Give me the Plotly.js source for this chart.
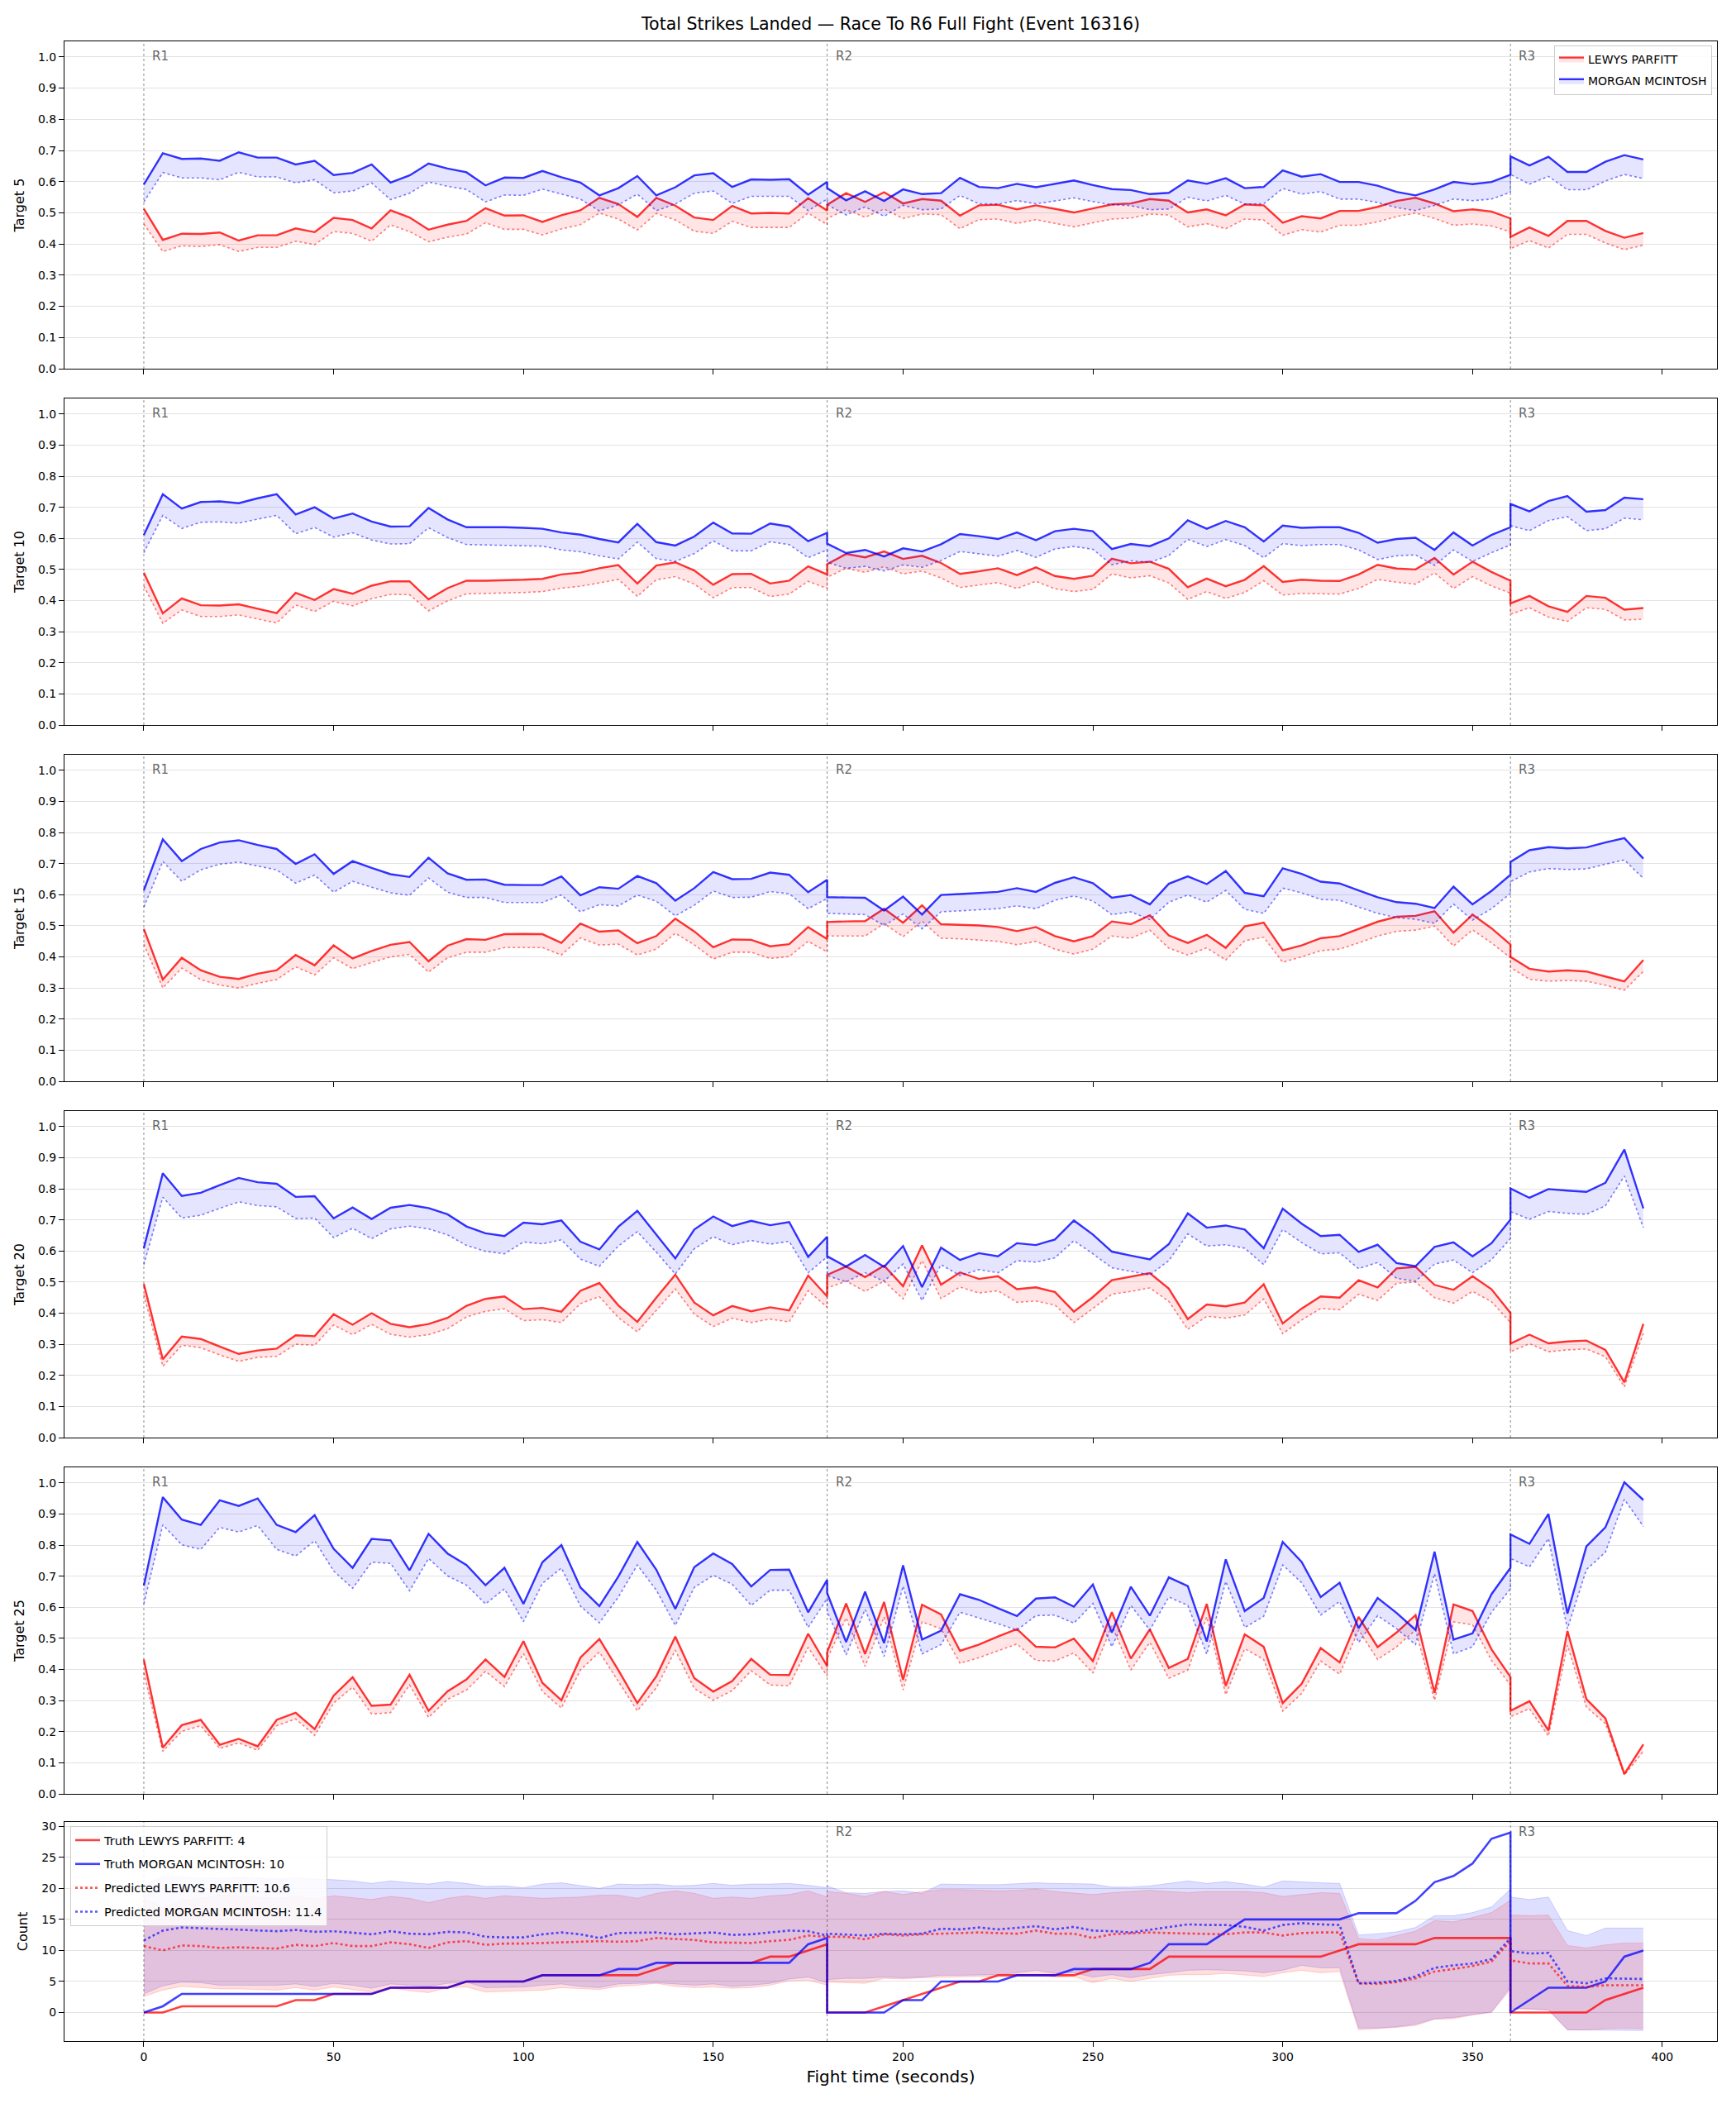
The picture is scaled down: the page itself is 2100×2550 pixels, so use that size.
<!DOCTYPE html>
<html><head><meta charset="utf-8">
<script src="https://cdn.plot.ly/plotly-3.0.1.min.js"></script>
<style>body{margin:0;background:#fff}#chart{width:2100px;height:2550px}</style>
</head><body><div id="chart"></div>
<script>
const chartTitle = 'Total Strikes Landed — Race To R6 Full Fight (Event 16316)';
const fighters = ['LEWYS PARFITT', 'MORGAN MCINTOSH'];
const targetLabels = ['Target 5', 'Target 10', 'Target 15', 'Target 20', 'Target 25'];
const countLabel = 'Count';
const xLabel = 'Fight time (seconds)';
const roundStarts = [0, 180, 360];
const roundLabels = ['R1', 'R2', 'R3'];
const countLegend = ['Truth LEWYS PARFITT: 4', 'Truth MORGAN MCINTOSH: 10', 'Predicted LEWYS PARFITT: 10.6', 'Predicted MORGAN MCINTOSH: 11.4'];

const fightTime = [
 0,5,10,15,20,25,30,35,40,45,50,55,60,65,70,75,80,85,90,95,100,105,110,115,120,125,130,135,140,145,150,155,160,165,170,175,180,
 180,185,190,195,200,205,210,215,220,225,230,235,240,245,250,255,260,265,270,275,280,285,290,295,300,305,310,315,320,325,330,335,340,345,350,355,360,
 360,365,370,375,380,385,390,395];

// Target 5
const t5Red = [
 0.513,0.413,0.433,0.432,0.437,0.411,0.428,0.428,0.450,0.438,0.484,0.477,0.450,0.508,0.485,0.446,0.462,0.474,0.515,0.491,0.492,0.471,0.492,0.508,0.548,0.528,0.487,0.548,0.523,0.485,0.477,0.522,0.498,0.500,0.498,0.547,0.507,
 0.526,0.563,0.535,0.566,0.530,0.544,0.539,0.491,0.524,0.526,0.511,0.524,0.512,0.501,0.514,0.527,0.530,0.544,0.539,0.501,0.511,0.492,0.527,0.524,0.468,0.489,0.482,0.506,0.506,0.519,0.538,0.548,0.530,0.505,0.511,0.504,0.482,
 0.423,0.453,0.426,0.474,0.474,0.442,0.420,0.435];
const t5RedPred = [
 0.464,0.376,0.394,0.392,0.398,0.376,0.389,0.389,0.409,0.398,0.440,0.434,0.409,0.461,0.440,0.407,0.422,0.432,0.468,0.447,0.447,0.429,0.448,0.462,0.499,0.480,0.445,0.498,0.477,0.441,0.434,0.473,0.453,0.454,0.453,0.499,0.462,
 0.482,0.510,0.486,0.512,0.482,0.496,0.494,0.449,0.478,0.480,0.466,0.478,0.466,0.455,0.468,0.480,0.483,0.496,0.493,0.455,0.465,0.449,0.480,0.477,0.428,0.446,0.438,0.460,0.460,0.471,0.488,0.499,0.482,0.460,0.464,0.458,0.439,
 0.385,0.411,0.387,0.431,0.431,0.403,0.382,0.396];
const t5Blue = [
 0.591,0.691,0.673,0.674,0.667,0.694,0.677,0.677,0.655,0.667,0.621,0.628,0.655,0.597,0.620,0.658,0.642,0.630,0.588,0.613,0.612,0.634,0.614,0.597,0.556,0.579,0.618,0.556,0.582,0.620,0.627,0.583,0.607,0.606,0.608,0.558,0.599,
 0.579,0.540,0.569,0.538,0.575,0.560,0.563,0.612,0.583,0.579,0.593,0.582,0.593,0.604,0.589,0.576,0.573,0.560,0.564,0.604,0.593,0.611,0.579,0.583,0.636,0.616,0.624,0.599,0.599,0.587,0.567,0.556,0.575,0.599,0.592,0.599,0.622,
 0.681,0.652,0.680,0.631,0.631,0.664,0.685,0.671];
const t5BluePred = [
 0.535,0.629,0.612,0.612,0.606,0.630,0.615,0.615,0.596,0.606,0.564,0.570,0.596,0.542,0.563,0.599,0.585,0.575,0.535,0.557,0.556,0.576,0.560,0.544,0.506,0.526,0.560,0.507,0.528,0.563,0.570,0.530,0.553,0.553,0.553,0.507,0.544,
 0.526,0.493,0.519,0.489,0.524,0.510,0.512,0.556,0.529,0.528,0.539,0.529,0.538,0.548,0.536,0.526,0.523,0.510,0.512,0.550,0.538,0.556,0.528,0.529,0.578,0.560,0.568,0.544,0.544,0.533,0.517,0.507,0.524,0.544,0.539,0.544,0.566,
 0.623,0.592,0.617,0.574,0.574,0.602,0.623,0.610];

// Target 10
const t10Red = [
 0.490,0.359,0.407,0.385,0.384,0.388,0.374,0.360,0.425,0.402,0.437,0.422,0.448,0.462,0.462,0.404,0.440,0.464,0.464,0.465,0.467,0.470,0.484,0.490,0.504,0.514,0.455,0.513,0.523,0.497,0.451,0.485,0.486,0.455,0.464,0.510,0.484,
 0.517,0.550,0.539,0.558,0.534,0.544,0.521,0.486,0.494,0.504,0.482,0.507,0.479,0.470,0.480,0.535,0.520,0.525,0.502,0.443,0.471,0.446,0.467,0.511,0.460,0.467,0.464,0.463,0.484,0.515,0.503,0.500,0.537,0.484,0.525,0.492,0.464,
 0.391,0.415,0.382,0.364,0.415,0.409,0.371,0.376];
const t10RedPred = [
 0.447,0.327,0.370,0.349,0.349,0.354,0.341,0.328,0.386,0.365,0.398,0.383,0.406,0.420,0.419,0.367,0.399,0.422,0.423,0.424,0.426,0.429,0.440,0.446,0.458,0.468,0.414,0.467,0.477,0.453,0.409,0.442,0.442,0.413,0.421,0.462,0.439,
 0.475,0.504,0.491,0.509,0.486,0.495,0.473,0.442,0.451,0.458,0.439,0.462,0.438,0.429,0.436,0.486,0.473,0.480,0.457,0.404,0.429,0.407,0.426,0.464,0.418,0.423,0.422,0.421,0.439,0.468,0.459,0.453,0.489,0.439,0.477,0.447,0.424,
 0.356,0.377,0.347,0.333,0.377,0.372,0.338,0.340];
const t10Blue = [
 0.611,0.742,0.696,0.717,0.719,0.713,0.729,0.742,0.677,0.700,0.664,0.680,0.654,0.638,0.639,0.698,0.661,0.636,0.636,0.636,0.634,0.631,0.619,0.612,0.598,0.587,0.647,0.588,0.577,0.606,0.651,0.616,0.615,0.648,0.638,0.591,0.618,
 0.583,0.553,0.563,0.542,0.568,0.558,0.581,0.614,0.607,0.598,0.619,0.594,0.623,0.631,0.623,0.566,0.582,0.575,0.600,0.658,0.631,0.656,0.636,0.590,0.641,0.634,0.636,0.636,0.618,0.586,0.598,0.602,0.563,0.619,0.577,0.611,0.636,
 0.711,0.687,0.720,0.736,0.686,0.691,0.731,0.726];
const t10BluePred = [
 0.554,0.674,0.632,0.652,0.653,0.649,0.662,0.674,0.615,0.635,0.604,0.618,0.595,0.582,0.583,0.634,0.603,0.580,0.579,0.578,0.576,0.575,0.563,0.557,0.544,0.534,0.588,0.535,0.526,0.551,0.592,0.560,0.560,0.589,0.580,0.538,0.563,
 0.523,0.504,0.510,0.495,0.515,0.507,0.529,0.558,0.551,0.543,0.561,0.539,0.566,0.574,0.565,0.515,0.528,0.523,0.545,0.597,0.574,0.596,0.577,0.538,0.583,0.577,0.580,0.580,0.563,0.532,0.544,0.547,0.513,0.563,0.526,0.554,0.579,
 0.641,0.625,0.657,0.670,0.625,0.631,0.665,0.660];

// Target 15
const t15Red = [
 0.490,0.327,0.397,0.357,0.336,0.329,0.346,0.357,0.406,0.373,0.437,0.395,0.419,0.439,0.448,0.386,0.436,0.457,0.455,0.473,0.474,0.473,0.445,0.507,0.481,0.485,0.444,0.467,0.523,0.482,0.431,0.456,0.455,0.434,0.441,0.496,0.457,
 0.512,0.514,0.515,0.555,0.510,0.566,0.505,0.503,0.501,0.496,0.483,0.496,0.467,0.450,0.467,0.514,0.505,0.534,0.469,0.445,0.471,0.429,0.498,0.510,0.421,0.437,0.460,0.467,0.490,0.513,0.529,0.532,0.547,0.478,0.536,0.492,0.440,
 0.400,0.362,0.353,0.357,0.353,0.337,0.321,0.390];
const t15RedPred = [
 0.441,0.300,0.364,0.327,0.309,0.300,0.315,0.327,0.368,0.342,0.397,0.362,0.382,0.400,0.408,0.351,0.397,0.415,0.415,0.430,0.430,0.430,0.406,0.461,0.438,0.441,0.406,0.425,0.476,0.439,0.393,0.415,0.415,0.395,0.401,0.450,0.416,
 0.467,0.467,0.467,0.507,0.465,0.515,0.460,0.458,0.454,0.450,0.439,0.450,0.425,0.409,0.425,0.467,0.460,0.486,0.428,0.406,0.429,0.390,0.452,0.463,0.383,0.400,0.420,0.425,0.445,0.467,0.482,0.486,0.499,0.435,0.487,0.445,0.397,
 0.366,0.328,0.322,0.324,0.322,0.309,0.293,0.353];
const t15Blue = [
 0.614,0.778,0.708,0.747,0.768,0.775,0.760,0.747,0.699,0.730,0.667,0.708,0.686,0.666,0.657,0.719,0.669,0.648,0.649,0.632,0.631,0.631,0.659,0.598,0.624,0.619,0.660,0.637,0.581,0.621,0.673,0.650,0.651,0.671,0.664,0.608,0.648,
 0.592,0.591,0.590,0.549,0.594,0.536,0.599,0.602,0.605,0.609,0.621,0.609,0.638,0.656,0.637,0.590,0.599,0.569,0.635,0.659,0.634,0.676,0.606,0.595,0.685,0.667,0.642,0.636,0.614,0.592,0.576,0.571,0.557,0.626,0.569,0.612,0.664,
 0.705,0.743,0.753,0.749,0.752,0.768,0.782,0.716];
const t15BluePred = [
 0.560,0.707,0.643,0.680,0.698,0.705,0.692,0.680,0.637,0.663,0.608,0.643,0.624,0.606,0.598,0.654,0.608,0.591,0.591,0.575,0.575,0.575,0.599,0.545,0.568,0.564,0.599,0.579,0.532,0.566,0.612,0.591,0.592,0.610,0.603,0.555,0.588,
 0.540,0.538,0.536,0.501,0.538,0.490,0.545,0.548,0.552,0.555,0.564,0.555,0.582,0.596,0.580,0.536,0.545,0.520,0.576,0.599,0.576,0.614,0.553,0.540,0.621,0.606,0.585,0.582,0.560,0.540,0.526,0.521,0.508,0.570,0.518,0.555,0.604,
 0.642,0.673,0.684,0.681,0.683,0.698,0.712,0.652];

// Target 20
const t20Red = [
 0.494,0.252,0.325,0.317,0.293,0.269,0.280,0.286,0.329,0.326,0.397,0.363,0.400,0.366,0.355,0.365,0.385,0.424,0.446,0.454,0.413,0.417,0.405,0.472,0.497,0.425,0.372,0.450,0.524,0.434,0.393,0.423,0.406,0.419,0.409,0.521,0.454,
 0.523,0.550,0.516,0.553,0.487,0.618,0.492,0.531,0.510,0.519,0.477,0.483,0.468,0.405,0.452,0.506,0.517,0.529,0.479,0.381,0.428,0.422,0.434,0.493,0.367,0.415,0.454,0.450,0.506,0.483,0.544,0.549,0.491,0.475,0.519,0.477,0.401,
 0.302,0.331,0.303,0.309,0.312,0.282,0.178,0.366];
const t20RedPred = [
 0.459,0.229,0.297,0.289,0.266,0.245,0.258,0.261,0.300,0.297,0.362,0.331,0.364,0.332,0.323,0.331,0.350,0.388,0.406,0.414,0.376,0.379,0.370,0.431,0.453,0.386,0.340,0.410,0.478,0.397,0.357,0.384,0.370,0.381,0.372,0.472,0.419,
 0.481,0.503,0.470,0.503,0.446,0.569,0.447,0.484,0.465,0.472,0.435,0.439,0.426,0.370,0.415,0.461,0.470,0.481,0.438,0.348,0.390,0.384,0.394,0.446,0.334,0.378,0.415,0.411,0.461,0.441,0.496,0.500,0.450,0.432,0.470,0.437,0.370,
 0.276,0.302,0.276,0.282,0.285,0.260,0.163,0.335];
const t20Blue = [
 0.609,0.850,0.777,0.787,0.812,0.835,0.821,0.816,0.774,0.776,0.705,0.740,0.703,0.739,0.748,0.738,0.718,0.679,0.657,0.648,0.691,0.686,0.698,0.630,0.605,0.678,0.729,0.653,0.576,0.669,0.711,0.680,0.697,0.683,0.693,0.581,0.646,
 0.583,0.550,0.587,0.549,0.616,0.484,0.611,0.571,0.593,0.583,0.625,0.619,0.637,0.698,0.653,0.598,0.585,0.573,0.622,0.721,0.675,0.682,0.669,0.609,0.736,0.688,0.648,0.652,0.597,0.620,0.561,0.551,0.613,0.628,0.583,0.625,0.701,
 0.801,0.771,0.799,0.794,0.790,0.819,0.926,0.737];
const t20BluePred = [
 0.556,0.773,0.706,0.715,0.737,0.758,0.746,0.742,0.704,0.706,0.643,0.673,0.640,0.671,0.680,0.671,0.652,0.618,0.599,0.591,0.629,0.623,0.636,0.574,0.551,0.616,0.662,0.596,0.526,0.607,0.646,0.620,0.634,0.622,0.631,0.530,0.581,
 0.521,0.501,0.530,0.503,0.558,0.441,0.556,0.521,0.540,0.530,0.569,0.564,0.578,0.633,0.591,0.546,0.534,0.523,0.569,0.655,0.616,0.620,0.609,0.556,0.669,0.627,0.591,0.594,0.543,0.563,0.512,0.503,0.558,0.571,0.530,0.572,0.640,
 0.727,0.702,0.727,0.721,0.718,0.745,0.841,0.675];

// Target 25
const t25Red = [
 0.432,0.149,0.221,0.238,0.158,0.177,0.153,0.238,0.261,0.208,0.316,0.375,0.283,0.287,0.383,0.267,0.330,0.368,0.432,0.376,0.491,0.357,0.301,0.438,0.498,0.398,0.292,0.378,0.506,0.372,0.329,0.363,0.434,0.383,0.382,0.515,0.411,
 0.456,0.612,0.450,0.617,0.367,0.608,0.577,0.460,0.480,0.506,0.530,0.473,0.471,0.499,0.427,0.584,0.435,0.529,0.405,0.434,0.611,0.347,0.513,0.473,0.292,0.354,0.469,0.423,0.569,0.472,0.519,0.575,0.325,0.609,0.588,0.465,0.376,
 0.267,0.298,0.204,0.524,0.305,0.243,0.064,0.159];
const t25RedPred = [
 0.389,0.137,0.201,0.219,0.146,0.164,0.140,0.219,0.241,0.188,0.292,0.343,0.257,0.261,0.350,0.246,0.304,0.334,0.394,0.345,0.451,0.329,0.276,0.398,0.456,0.363,0.267,0.341,0.462,0.339,0.301,0.332,0.396,0.350,0.348,0.471,0.379,
 0.434,0.566,0.410,0.569,0.334,0.553,0.531,0.420,0.438,0.460,0.482,0.429,0.427,0.453,0.389,0.540,0.398,0.487,0.372,0.398,0.569,0.319,0.467,0.432,0.266,0.323,0.427,0.385,0.527,0.432,0.473,0.527,0.301,0.553,0.544,0.429,0.350,
 0.248,0.274,0.186,0.478,0.279,0.226,0.060,0.137];
const t25Blue = [
 0.670,0.954,0.882,0.865,0.944,0.926,0.950,0.865,0.842,0.896,0.788,0.727,0.820,0.815,0.719,0.836,0.773,0.736,0.671,0.727,0.611,0.745,0.800,0.664,0.604,0.699,0.810,0.721,0.595,0.729,0.773,0.739,0.667,0.720,0.721,0.584,0.688,
 0.646,0.488,0.650,0.485,0.735,0.496,0.525,0.642,0.624,0.597,0.572,0.628,0.632,0.602,0.673,0.519,0.666,0.573,0.696,0.668,0.490,0.754,0.588,0.630,0.810,0.746,0.633,0.679,0.533,0.630,0.582,0.527,0.779,0.496,0.516,0.642,0.727,
 0.834,0.804,0.900,0.580,0.796,0.857,1.002,0.945];
const t25BluePred = [
 0.611,0.865,0.801,0.786,0.857,0.842,0.863,0.786,0.765,0.814,0.717,0.661,0.745,0.741,0.653,0.757,0.701,0.671,0.611,0.659,0.554,0.677,0.726,0.604,0.550,0.633,0.736,0.655,0.542,0.664,0.703,0.674,0.606,0.655,0.655,0.535,0.628,
 0.586,0.447,0.593,0.442,0.668,0.450,0.480,0.584,0.566,0.547,0.527,0.573,0.575,0.549,0.612,0.473,0.606,0.527,0.633,0.606,0.449,0.683,0.535,0.571,0.736,0.679,0.575,0.619,0.487,0.573,0.531,0.480,0.708,0.450,0.473,0.584,0.659,
 0.757,0.730,0.821,0.531,0.721,0.777,0.947,0.860];

// Count panel
const truthRed = [
 0,0,1,1,1,1,1,1,2,2,3,3,3,4,4,4,4,5,5,5,5,6,6,6,6,6,6,7,8,8,8,8,8,9,9,10,11,
 0,0,0,1,2,3,4,5,5,6,6,6,6,6,7,7,7,7,9,9,9,9,9,9,9,9,9,10,11,11,11,11,12,12,12,12,12,
 0,0,0,0,0,2,3,4];
const truthBlue = [
 0,1,3,3,3,3,3,3,3,3,3,3,3,4,4,4,4,5,5,5,5,6,6,6,6,7,7,8,8,8,8,8,8,8,8,11,12,
 0,0,0,0,2,2,5,5,5,5,6,6,6,7,7,7,7,8,11,11,11,13,15,15,15,15,15,15,16,16,16,18,21,22,24,28,29,
 0,2,4,4,4,5,9,10];
const predRed = [
 10.7,10.0,10.8,10.7,10.4,10.5,10.4,10.3,10.9,10.7,11.2,10.7,10.7,11.3,11.0,10.4,11.3,11.5,10.9,11.1,11.1,11.2,11.3,11.3,11.5,11.4,11.5,12.0,11.8,11.7,11.3,11.2,11.2,11.5,11.7,12.4,12.2,
 12.2,12.2,11.8,12.6,12.4,12.6,12.7,12.7,12.9,12.8,12.7,13.2,12.7,12.7,12.0,12.6,12.7,12.9,12.8,12.7,12.7,12.6,12.9,12.9,12.4,12.8,12.9,12.9,4.7,4.6,4.9,5.5,6.6,7.0,7.5,8.2,11.5,
 8.4,7.9,7.9,4.3,4.1,4.4,4.4,4.4];
const predBlue = [
 11.6,13.2,13.7,13.6,13.4,13.4,13.3,13.1,13.3,13.0,13.1,12.9,12.6,13.1,12.7,12.6,13.0,12.9,12.2,12.1,12.1,12.6,12.9,12.6,12.0,12.8,12.9,12.9,12.6,12.8,12.9,12.5,12.6,12.9,13.2,13.1,12.4,
 12.7,12.6,12.4,12.7,12.6,12.7,13.5,13.4,13.7,13.4,13.7,13.9,13.4,13.8,13.2,13.1,12.9,13.3,13.8,14.2,14.1,14.1,13.8,13.2,14.1,14.4,14.2,14.1,4.7,4.8,5.1,5.8,7.2,7.6,7.9,8.6,12.0,
 9.9,9.5,9.6,5.0,4.7,5.5,5.5,5.4];
const predRedHigh = [
 18.4,16.9,18.0,18.4,18.9,18.7,18.6,18.4,18.7,18.3,18.8,18.5,18.2,18.7,18.4,17.7,18.4,18.8,18.4,18.8,18.6,18.4,18.5,18.6,18.9,18.9,18.4,19.2,19.6,19.2,18.4,18.6,18.4,18.8,19.0,19.6,18.6,
 19.5,19.2,18.7,19.5,19.0,19.5,19.8,19.8,19.7,19.6,19.7,19.9,19.5,19.3,19.0,19.3,19.5,19.7,19.5,19.3,19.5,19.5,19.5,19.3,18.7,19.0,19.3,19.2,11.9,11.7,12.4,13.1,14.8,14.6,15.3,16.1,18.1,
 15.7,15.6,15.7,10.8,10.4,10.9,11.2,11.2];
const predRedLow = [
 2.6,3.6,4.2,4.0,3.8,3.8,3.7,3.6,4.0,3.6,4.1,3.7,3.3,4.0,3.5,3.2,4.0,4.1,3.3,3.4,3.5,3.6,4.0,3.9,3.7,4.2,4.4,4.7,4.2,4.0,4.1,3.9,4.0,4.4,5.1,5.2,4.4,
 4.9,4.8,4.7,5.5,5.4,5.6,5.7,5.7,5.8,5.8,6.0,6.1,5.7,5.8,4.8,5.5,5.0,5.5,6.0,6.1,6.1,6.3,6.0,5.8,6.4,6.8,6.4,6.6,-2.8,-2.6,-2.4,-2.1,-1.1,-1.0,-0.4,0.0,3.7,
 0.6,0.5,0.4,-2.8,-2.8,-2.6,-2.5,-2.6];
const predBlueHigh = [
 20.6,21.9,21.8,21.7,21.6,21.8,21.6,21.5,21.7,21.5,21.4,21.2,20.8,21.2,20.9,20.7,21.1,20.8,20.3,20.4,20.1,20.7,20.9,20.4,20.0,20.7,20.6,20.7,20.4,20.5,20.8,20.5,20.7,20.7,20.8,20.5,20.1,
 20.4,19.3,19.2,19.5,19.6,19.2,20.7,20.6,20.6,20.6,20.7,20.9,20.8,20.8,20.7,20.2,20.2,20.4,20.8,21.2,20.8,21.1,20.7,20.2,21.2,21.0,20.9,20.8,12.5,12.7,13.0,13.7,15.6,15.6,16.1,17.0,19.9,
 18.6,18.2,18.6,13.2,12.4,13.6,13.6,13.6];
const predBlueLow = [
 3.0,4.3,4.9,4.8,4.4,4.4,4.4,4.4,4.6,4.2,4.7,4.4,3.9,4.6,4.4,4.2,4.7,4.9,4.0,4.0,4.1,4.4,4.6,4.2,4.0,4.6,4.7,4.8,4.6,4.4,4.6,4.2,4.4,4.7,5.4,5.7,4.8,
 5.3,5.5,5.5,5.7,5.6,5.7,6.0,6.0,6.1,6.1,6.4,6.8,6.3,6.4,5.7,6.1,5.6,6.1,6.4,6.8,6.9,6.8,6.7,6.4,6.8,7.6,7.2,7.2,-2.5,-2.5,-2.3,-1.9,-1.0,-0.8,-0.3,0.1,4.1,
 0.7,0.6,0.4,-2.8,-2.8,-2.8,-2.8,-2.9];

// ---------------- drawing ----------------
const W = 2100, H = 2550;
const FONT = 'DejaVu Sans, Liberation Sans, sans-serif';
const plotLeftPx = 78, plotRightPx = 2077;
const panelPx = [[50, 446], [482, 877], [913, 1308], [1344, 1739], [1775, 2170], [2204, 2469]];
const RED = 'rgba(255,0,0,0.8)', BLUE = 'rgba(0,0,255,0.8)';
const RED_DOT = 'rgba(255,0,0,0.5)', BLUE_DOT = 'rgba(0,0,255,0.5)';

const panels = [
  {red: t5Red, redPred: t5RedPred, blue: t5Blue, bluePred: t5BluePred},
  {red: t10Red, redPred: t10RedPred, blue: t10Blue, bluePred: t10BluePred},
  {red: t15Red, redPred: t15RedPred, blue: t15Blue, bluePred: t15BluePred},
  {red: t20Red, redPred: t20RedPred, blue: t20Blue, bluePred: t20BluePred},
  {red: t25Red, redPred: t25RedPred, blue: t25Blue, bluePred: t25BluePred}
];

const traces = [];
const sfx = i => (i === 0 ? '' : String(i + 1));

panels.forEach((p, i) => {
  const xa = 'x' + sfx(i), ya = 'y' + sfx(i);
  traces.push({x: fightTime, y: p.redPred, xaxis: xa, yaxis: ya, mode: 'lines',
    line: {color: RED_DOT, width: 1.6, dash: 'dot'}, showlegend: false, hoverinfo: 'skip'});
  traces.push({x: fightTime, y: p.red, xaxis: xa, yaxis: ya, mode: 'lines', name: fighters[0],
    fill: 'tonexty', fillcolor: 'rgba(255,0,0,0.1)', legendgroup: 'f0',
    line: {color: RED, width: 2.4}, showlegend: i === 0, legend: 'legend', hoverinfo: 'skip'});
  traces.push({x: fightTime, y: p.bluePred, xaxis: xa, yaxis: ya, mode: 'lines',
    line: {color: BLUE_DOT, width: 1.6, dash: 'dot'}, showlegend: false, hoverinfo: 'skip'});
  traces.push({x: fightTime, y: p.blue, xaxis: xa, yaxis: ya, mode: 'lines', name: fighters[1],
    fill: 'tonexty', fillcolor: 'rgba(0,0,255,0.1)', legendgroup: 'f1',
    line: {color: BLUE, width: 2.4}, showlegend: i === 0, legend: 'legend', hoverinfo: 'skip'});
});

// count panel
{
  const xa = 'x6', ya = 'y6';
  traces.push({x: fightTime, y: predBlueLow, xaxis: xa, yaxis: ya, mode: 'lines',
    line: {color: 'rgba(0,0,255,0.15)', width: 1}, showlegend: false, hoverinfo: 'skip'});
  traces.push({x: fightTime, y: predBlueHigh, xaxis: xa, yaxis: ya, mode: 'lines', fill: 'tonexty',
    fillcolor: 'rgba(0,0,255,0.13)', line: {color: 'rgba(0,0,255,0.15)', width: 1}, showlegend: false, hoverinfo: 'skip'});
  traces.push({x: fightTime, y: predRedLow, xaxis: xa, yaxis: ya, mode: 'lines',
    line: {color: 'rgba(255,0,0,0.15)', width: 1}, showlegend: false, hoverinfo: 'skip'});
  traces.push({x: fightTime, y: predRedHigh, xaxis: xa, yaxis: ya, mode: 'lines', fill: 'tonexty',
    fillcolor: 'rgba(255,0,0,0.13)', line: {color: 'rgba(255,0,0,0.15)', width: 1}, showlegend: false, hoverinfo: 'skip'});
  traces.push({x: fightTime, y: truthRed, xaxis: xa, yaxis: ya, mode: 'lines', name: countLegend[0], legendgroup: 'c0',
    line: {color: 'rgba(255,0,0,0.75)', width: 2.6}, legend: 'legend2', hoverinfo: 'skip'});
  traces.push({x: fightTime, y: truthBlue, xaxis: xa, yaxis: ya, mode: 'lines', name: countLegend[1], legendgroup: 'c1',
    line: {color: 'rgba(0,0,255,0.75)', width: 2.6}, legend: 'legend2', hoverinfo: 'skip'});
  traces.push({x: fightTime, y: predRed, xaxis: xa, yaxis: ya, mode: 'lines', name: countLegend[2], legendgroup: 'c2',
    line: {color: 'rgba(255,0,0,0.65)', width: 2.6, dash: 'dot'}, legend: 'legend2', hoverinfo: 'skip'});
  traces.push({x: fightTime, y: predBlue, xaxis: xa, yaxis: ya, mode: 'lines', name: countLegend[3], legendgroup: 'c3',
    line: {color: 'rgba(0,0,255,0.65)', width: 2.6, dash: 'dot'}, legend: 'legend2', hoverinfo: 'skip'});
}

const layout = {
  width: W, height: H,
  margin: {l: 0, r: 0, t: 0, b: 0},
  paper_bgcolor: '#ffffff', plot_bgcolor: '#ffffff',
  font: {family: FONT, size: 14, color: '#000'},
  title: {text: chartTitle, x: (plotLeftPx + plotRightPx) / 2 / W, xanchor: 'center', xref: 'paper',
          y: 1 - 29 / H, yref: 'paper', yanchor: 'middle', font: {family: FONT, size: 20.5, color: '#000'}},
  showlegend: true,
  legend: {x: 2071 / W, y: 1 - 55 / H, xanchor: 'right', yanchor: 'top', bgcolor: 'rgba(255,255,255,0.85)',
           bordercolor: '#cccccc', borderwidth: 1, font: {family: FONT, size: 14}, traceorder: 'grouped', tracegroupgap: 5},
  legend2: {x: 85 / W, y: 1 - 2209 / H, xanchor: 'left', yanchor: 'top', bgcolor: 'rgba(255,255,255,0.85)',
            bordercolor: '#cccccc', borderwidth: 1, font: {family: FONT, size: 14.5}, traceorder: 'grouped', tracegroupgap: 7},
  shapes: [], annotations: []
};

const allLabels = targetLabels.concat([countLabel]);
for (let i = 0; i < 6; i++) {
  const s = sfx(i);
  const [top, bot] = panelPx[i];
  layout['xaxis' + s] = {
    domain: [plotLeftPx / W, plotRightPx / W], anchor: 'y' + s,
    range: [-20.9, 414.4], tick0: 0, dtick: 50,
    showline: true, mirror: true, linecolor: '#000', linewidth: 1,
    ticks: 'outside', ticklen: 6, tickwidth: 1, tickcolor: '#000',
    showticklabels: i === 5, showgrid: false, zeroline: false,
    tickfont: {family: FONT, size: 14}
  };
  const yax = {
    domain: [1 - bot / H, 1 - top / H], anchor: 'x' + s,
    showline: true, mirror: true, linecolor: '#000', linewidth: 1,
    ticks: 'outside', ticklen: 6, tickwidth: 1, tickcolor: '#000',
    showgrid: true, gridcolor: '#e2e2e2', gridwidth: 1, zeroline: false,
    tickfont: {family: FONT, size: 14},
    title: {text: allLabels[i], font: {family: FONT, size: 16}, standoff: 12}
  };
  if (i < 5) { yax.range = [0, 1.05]; yax.tick0 = 0; yax.dtick = 0.1; yax.tickformat = '.1f'; }
  else { yax.range = [-4.6, 30.7]; yax.tick0 = 0; yax.dtick = 5; }
  layout['yaxis' + s] = yax;

  roundStarts.forEach((r, k) => {
    layout.shapes.push({type: 'line', xref: 'x' + s, yref: 'y' + s + ' domain', x0: r, x1: r, y0: 0, y1: 1,
      line: {color: 'rgba(0,0,0,0.45)', width: 1, dash: 'dot'}, layer: 'above'});
    if (!(i === 5 && k === 0)) {
      layout.annotations.push({x: r, y: 0.955, xref: 'x' + s, yref: 'y' + s + ' domain', text: roundLabels[k],
        showarrow: false, xanchor: 'left', yanchor: 'middle', xshift: 8,
        font: {family: FONT, size: 15, color: '#666666'}});
    }
  });
}
layout.xaxis6.title = {text: xLabel, font: {family: FONT, size: 20}, standoff: 10};

Plotly.newPlot('chart', traces, layout, {staticPlot: true, displayModeBar: false});
</script>
</body></html>
